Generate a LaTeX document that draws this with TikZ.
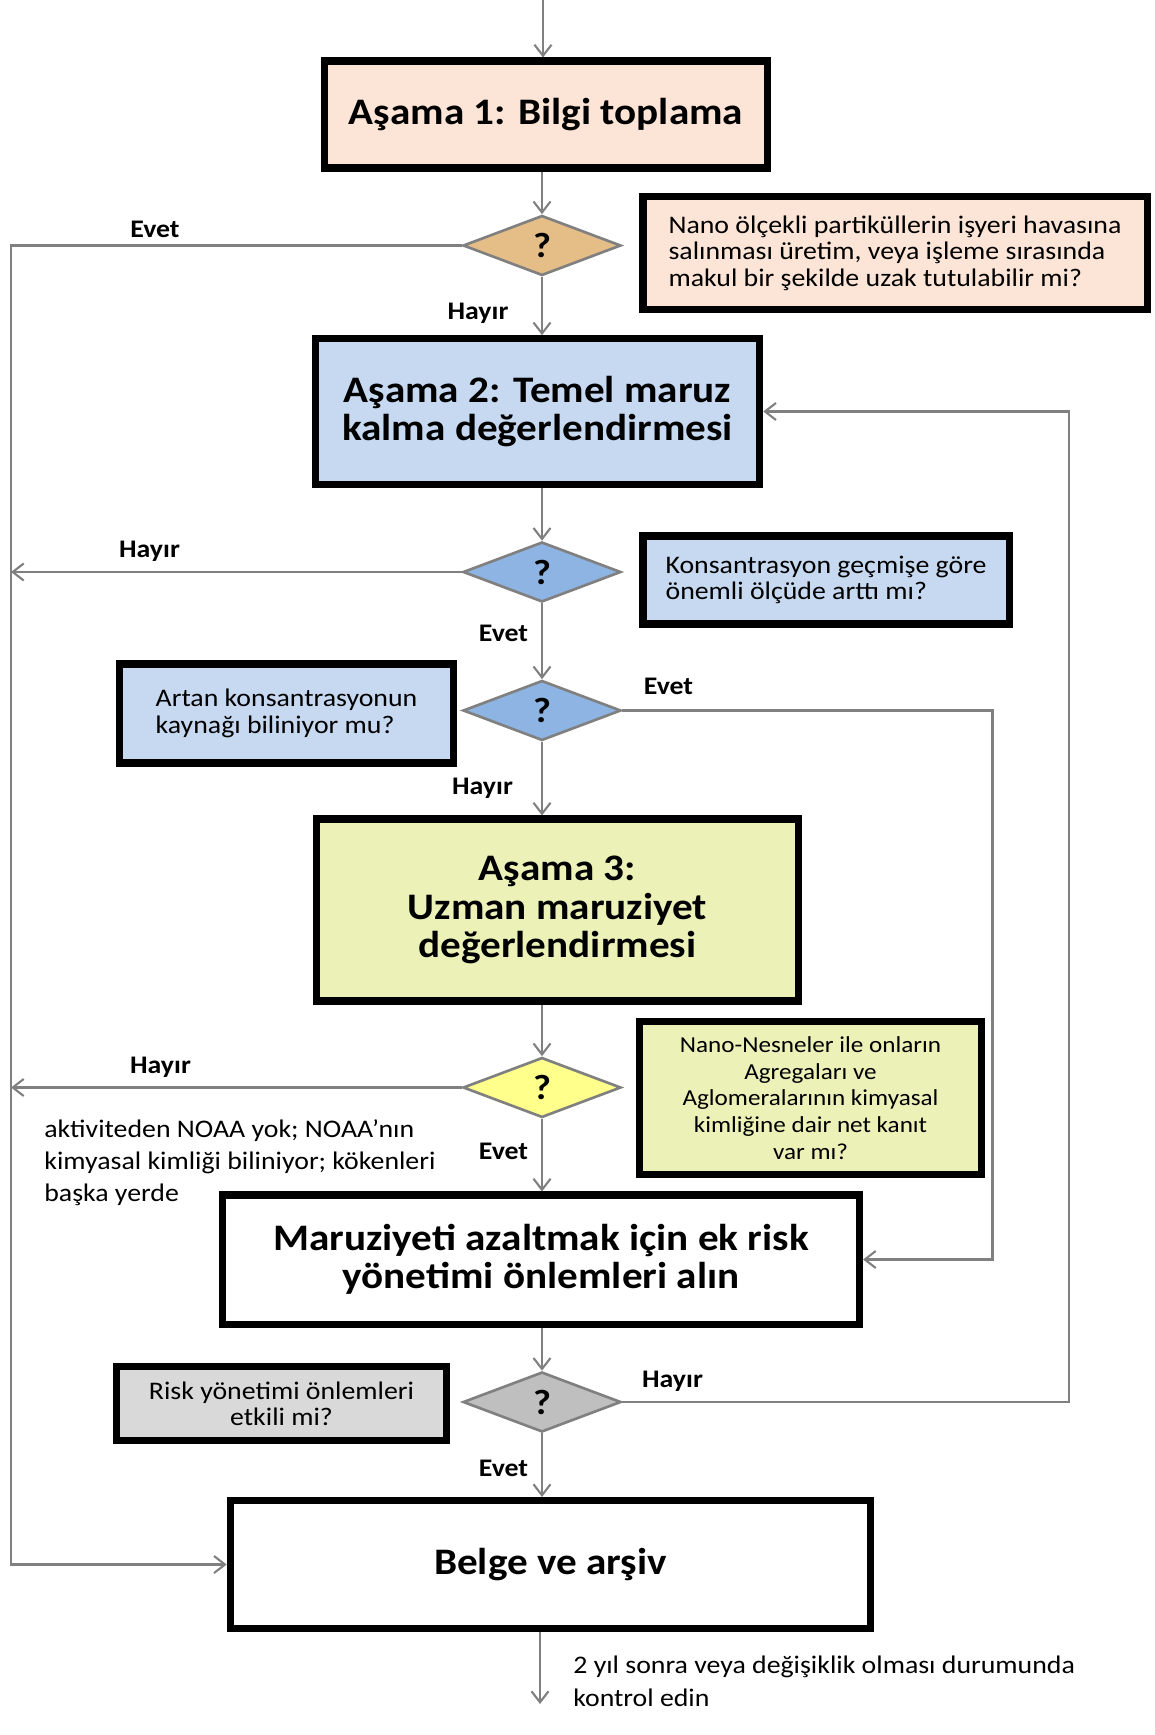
\documentclass[tikz,border=0pt]{standalone}
\usepackage{fontspec}
\setmainfont{Carlito}[FakeStretch=1.1]
\usepackage{xcolor}
\usetikzlibrary{positioning,shapes.geometric,arrows.meta}

\definecolor{peach}{RGB}{252,228,214}
\definecolor{qtan}{RGB}{229,190,135}
\definecolor{paleblue}{RGB}{198,217,241}
\definecolor{midblue}{RGB}{141,180,226}
\definecolor{palelime}{RGB}{235,241,183}
\definecolor{qyellow}{RGB}{255,255,140}
\definecolor{palegray}{RGB}{217,217,217}
\definecolor{midgray}{RGB}{191,191,191}
\definecolor{wire}{RGB}{128,128,128}

\begin{document}
\begin{tikzpicture}[>={Straight Barb[length=2.2mm,width=3.4mm]},
    stage/.style={rectangle, draw=black, line width=4pt, fill=white, align=center, inner sep=4pt, font=\fontsize{21.3}{21.8}\selectfont\bfseries},
    quest/.style={diamond, draw=wire, line width=1.5pt, inner sep=0pt, minimum width=3.16cm, minimum height=1.2cm, font=\fontsize{20}{20}\selectfont\bfseries},
    info/.style={rectangle, draw=black, line width=4pt, align=left, inner sep=4pt, font=\fontsize{14.4}{15}\selectfont},
    lbl/.style={font=\fontsize{14.4}{14.4}\selectfont\bfseries},
    note/.style={font=\fontsize{14.4}{18.3}\selectfont, align=left, inner sep=0pt},
    arrow/.style={->, draw=wire, line width=1.2pt}]

    \useasboundingbox (0,0) rectangle (23.08,-34.70);

    % main column
    \node [stage, fill=peach, minimum width=8.87cm, minimum height=2.14cm] at (10.92,-2.29) (b1) {Aşama 1: Bilgi toplama};
    \node [quest, fill=qtan] at (10.84,-4.91) (d1) {?};
    \node [stage, fill=paleblue, minimum width=8.89cm, minimum height=2.91cm] at (10.75,-8.23) (b2) {Aşama 2: Temel maruz\\kalma değerlendirmesi};
    \node [quest, fill=midblue] at (10.84,-11.44) (d2) {?};
    \node [quest, fill=midblue] at (10.84,-14.21) (d3) {?};
    \node [stage, fill=palelime, minimum width=9.64cm, minimum height=3.64cm] at (11.15,-18.20) (b3) {Aşama 3:\\Uzman maruziyet\\değerlendirmesi};
    \node [quest, fill=qyellow] at (10.84,-21.75) (d4) {?};
    \node [stage, minimum width=12.74cm, minimum height=2.58cm] at (10.82,-25.19) (b4) {Maruziyeti azaltmak için ek risk\\yönetimi önlemleri alın};
    \node [quest, fill=midgray] at (10.84,-28.04) (d5) {?};
    \node [stage, minimum width=12.81cm, minimum height=2.56cm] at (11.01,-31.29) (b5) {Belge ve arşiv};

    % questions beside the diamonds
    \node [info, fill=peach, minimum width=10.08cm, minimum height=2.27cm] at (17.90,-5.06) (q1) {Nano ölçekli partiküllerin işyeri havasına\\salınması üretim, veya işleme sırasında\\makul bir şekilde uzak tutulabilir mi?};
    \node [info, fill=paleblue, minimum width=7.32cm, minimum height=1.76cm] at (16.52,-11.60) (q2) {Konsantrasyon geçmişe göre\\önemli ölçüde arttı mı?};
    \node [info, fill=paleblue, minimum width=6.68cm, minimum height=1.98cm] at (5.73,-14.27) (q3) {Artan konsantrasyonun\\kaynağı biliniyor mu?};
    \node [info, fill=palelime, align=center, minimum width=6.83cm, minimum height=3.07cm, font=\fontsize{13}{15.2}\selectfont] at (16.21,-21.96) (q4) {Nano-Nesneler ile onların\\Agregaları ve\\Aglomeralarının kimyasal\\kimliğine dair net kanıt\\var mı?};
    \node [info, fill=palegray, align=center, minimum width=6.61cm, minimum height=1.48cm] at (5.63,-28.07) (q5) {Risk yönetimi önlemleri\\etkili mi?};

    % free ends and bends
    \coordinate (top) at (10.86,0);
    \coordinate (lft) at (0.22,0);
    \coordinate (rin) at (19.85,0);
    \coordinate (rout) at (21.38,0);
    \coordinate (bot) at (10.80,-34.08);

    \draw [arrow] (top) -- (top |- b1.north);
    \draw [arrow] (b1.south -| d1) -- (d1.north);
    \draw [arrow] (d1.south) -- (d1.south |- b2.north);
    \draw [arrow] (b2.south -| d2) -- (d2.north);
    \draw [arrow] (d2.south) -- (d3.north);
    \draw [arrow] (d3.south) -- (d3.south |- b3.north);
    \draw [arrow] (b3.south -| d4) -- (d4.north);
    \draw [arrow] (d4.south) -- (d4.south |- b4.north);
    \draw [arrow] (b4.south -| d5) -- (d5.north);
    \draw [arrow] (d5.south) -- (d5.south |- b5.north);
    \draw [arrow] (b5.south -| bot) -- (bot);

    % exits to the left and loops on the right
    \draw [arrow] (d1.west) -- (d1.west -| lft) |- (b5.west);
    \draw [arrow] (d2.west) -- (d2.west -| lft);
    \draw [arrow] (d4.west) -- (d4.west -| lft);
    \draw [arrow] (d3.east) -- (d3.east -| rin) |- (b4.east);
    \draw [arrow] (d5.east) -- (d5.east -| rout) |- (b2.east);

    % answers
    \node [lbl] at (3.10,-4.58) (e1) {Evet};
    \node [lbl] at (9.56,-6.26) (h1) {Hayır};
    \node [lbl] at (2.99,-11.02) (h2) {Hayır};
    \node [lbl] at (10.07,-12.66) (e2) {Evet};
    \node [lbl] at (13.37,-13.72) (e3) {Evet};
    \node [lbl] at (9.65,-15.76) (h3) {Hayır};
    \node [lbl] at (3.21,-21.35) (h4) {Hayır};
    \node [lbl] at (10.07,-23.02) (e4) {Evet};
    \node [lbl] at (13.45,-27.62) (h5) {Hayır};
    \node [lbl] at (10.07,-29.37) (e5) {Evet};

    \node [note, anchor=north west] at (0.88,-22.38) (why) {aktiviteden NOAA yok; NOAA'nın\\kimyasal kimliği biliniyor; kökenleri\\başka yerde};
    \node [note, anchor=north west] at (11.46,-33.12) (again) {2 yıl sonra veya değişiklik olması durumunda\\kontrol edin};
\end{tikzpicture}
\end{document}
